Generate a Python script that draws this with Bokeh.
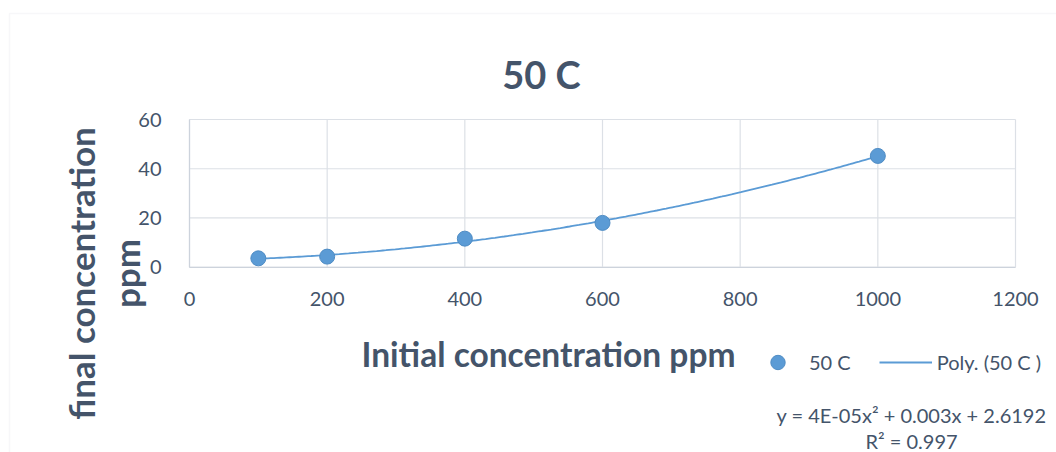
import numpy as np
from bokeh.plotting import figure
from bokeh.models import Label, Legend, LegendItem, FixedTicker, BoxAnnotation, Range1d
from bokeh.embed import file_html
from bokeh.resources import INLINE

# ---- data ----
initial_ppm = [100, 200, 400, 600, 1000]
final_ppm = [3.6, 4.3, 11.6, 18.0, 45.2]
x_ticks = [0, 200, 400, 600, 800, 1000, 1200]
y_ticks = [0, 20, 40, 60]
title_text = "50 C"
x_title = "Initial concentration ppm"
y_title_lines = ["final concentration", "ppm"]
series_name = "50 C"
trend_name = "Poly. (50 C )"
equation_text = "y = 4E-05x\u00b2 + 0.003x + 2.6192"
r2_text = "R\u00b2 = 0.997"

TEXT = "#44546A"
BLUE = "#5B9BD5"
GRID = "#DCE0E6"
AXIS = "#CDD3DC"
FONT = "Lato"

W, H = 1056, 452
# plot-area placement in canvas pixels
PX_L, PX_R, PX_T, PX_B = 189.0, 1015.0, 119.0, 266.7
xmin, xmax = x_ticks[0], x_ticks[-1]
ymin, ymax = y_ticks[0], y_ticks[-1]
sx = (PX_R - PX_L) / (xmax - xmin)
sy = (PX_B - PX_T) / (ymax - ymin)
x_range = Range1d(xmin - PX_L / sx, xmax + (W - PX_R) / sx)
y_range = Range1d(ymin - (H - PX_B) / sy, ymax + PX_T / sy)

p = figure(width=W, height=H, x_range=x_range, y_range=y_range,
           output_backend="svg", toolbar_location=None,
           min_border=0)
p.outline_line_color = None
p.background_fill_color = "white"
p.border_fill_color = "white"
p.xgrid.visible = False
p.ygrid.visible = False

# chart outer border (light)
p.add_layout(BoxAnnotation(left=9, right=W + 20, top=H - 13, bottom=-20,
                           left_units="screen", right_units="screen",
                           top_units="screen", bottom_units="screen",
                           fill_alpha=0, line_color="#E3E6EA", line_width=1.5))

# grid lines from the tick lists
p.segment(x0=x_ticks, y0=[ymin] * len(x_ticks), x1=x_ticks, y1=[ymax] * len(x_ticks),
          line_color=GRID, line_width=1.2)
p.segment(x0=[xmin] * len(y_ticks), y0=y_ticks, x1=[xmax] * len(y_ticks), y1=y_ticks,
          line_color=GRID, line_width=1.2)

for ax in (p.xaxis[0], p.yaxis[0]):
    ax.axis_line_color = AXIS
    ax.axis_line_width = 1.2
    ax.major_tick_line_color = None
    ax.minor_tick_line_color = None
    ax.major_label_text_font = FONT
    ax.major_label_text_font_size = "20px"
    ax.major_label_text_color = TEXT
p.xaxis.ticker = FixedTicker(ticks=x_ticks)
p.yaxis.ticker = FixedTicker(ticks=y_ticks)
p.xaxis.bounds = (xmin, xmax)
p.yaxis.bounds = (ymin, ymax)
p.xaxis.fixed_location = ymin
p.yaxis.fixed_location = xmin
p.xaxis.major_label_standoff = 19
p.yaxis.major_label_standoff = 22

# trendline: 2nd order polynomial fit of the data
coef = np.polyfit(initial_ppm, final_ppm, 2)
xs = np.linspace(min(initial_ppm), max(initial_ppm), 200)
ys = np.polyval(coef, xs)
trend = p.line(xs, ys, line_color=BLUE, line_width=1.8)
pts = p.scatter(initial_ppm, final_ppm, size=15, fill_color=BLUE,
                line_color="#4F8CC4", line_width=1)

legend = Legend(items=[LegendItem(label=series_name, renderers=[pts]),
                       LegendItem(label=trend_name, renderers=[trend])],
                orientation="horizontal", location=(751, H - 380),
                glyph_width=53, glyph_height=36, label_standoff=5, spacing=28,
                padding=0, margin=0, border_line_color=None,
                background_fill_alpha=0, label_text_font=FONT,
                label_text_font_size="20px", label_text_color=TEXT)
p.add_layout(legend, "center")


def lab(x, y_from_top, text, size, bold=False, angle=0.0, align="center",
        baseline="alphabetic"):
    p.add_layout(Label(x=x, y=H - y_from_top, x_units="screen", y_units="screen",
                       text=text, angle=angle, text_font=FONT,
                       text_font_style="bold" if bold else "normal",
                       text_font_size=size, text_color=TEXT,
                       text_align=align, text_baseline=baseline))


lab(541, 73, title_text, "38px", bold=True)
lab(548, 353, x_title, "33.5px", bold=True)
lab(80, 273, y_title_lines[0], "35px", bold=True, angle=np.pi / 2)
lab(125, 273, y_title_lines[1], "35px", bold=True, angle=np.pi / 2)
lab(911, 414, equation_text, "20px", baseline="middle")
lab(911, 440, r2_text, "20px", baseline="middle")

open("out.html", "w").write(file_html(p, INLINE))
